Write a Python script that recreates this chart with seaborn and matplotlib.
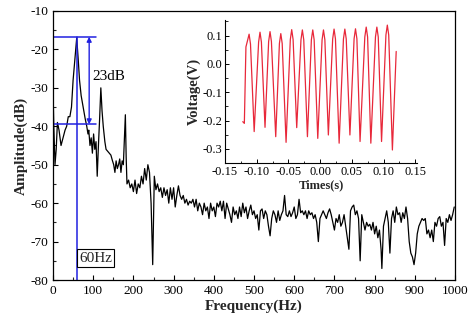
import numpy as np
import pandas as pd
import matplotlib
matplotlib.use("Agg")
import matplotlib.pyplot as plt
from matplotlib.ticker import MultipleLocator, FormatStrFormatter
import seaborn as sns

# Spectrum of the recorded signal (frequency in Hz, amplitude in dB)
freq = [
    0, 2, 5, 8, 11, 15, 20, 25, 30, 34,
    38, 42, 46, 50, 54, 59, 63, 66, 70, 75,
    80, 84, 87, 89, 92, 95, 98, 101, 104, 107,
    110, 113, 116, 119, 122, 125, 129, 132, 136, 140,
    144, 148, 151, 154, 157, 160, 163, 166, 169, 172,
    175, 178, 180, 182, 184, 188, 192, 196, 200, 204,
    208, 212, 216, 220, 224, 228, 232, 236, 240, 244,
    248, 252, 256, 260, 264, 268, 272, 276, 280, 284,
    288, 292, 296, 300, 304, 308, 312, 316, 320, 324,
    328, 332, 336, 340, 344, 348, 352, 356, 360, 364,
    368, 372, 376, 380, 384, 388, 392, 396, 400, 404,
    408, 412, 416, 420, 424, 428, 432, 436, 440, 444,
    448, 452, 456, 460, 464, 468, 472, 476, 480, 484,
    488, 492, 496, 500, 504, 508, 512, 516, 520, 524,
    528, 532, 536, 540, 544, 548, 552, 556, 560, 564,
    568, 572, 576, 580, 584, 588, 592, 596, 600, 604,
    608, 612, 616, 620, 624, 628, 632, 636, 640, 644,
    648, 652, 656, 660, 664, 668, 672, 676, 680, 684,
    688, 692, 696, 700, 704, 708, 712, 716, 720, 724,
    728, 732, 736, 740, 744, 748, 752, 756, 760, 764,
    768, 772, 776, 780, 784, 788, 792, 796, 800, 804,
    808, 812, 816, 818, 822, 826, 830, 834, 838, 842,
    846, 850, 854, 858, 862, 866, 870, 874, 878, 882,
    886, 890, 894, 898, 902, 906, 910, 914, 918, 922,
    926, 930, 934, 938, 942, 946, 950, 954, 958, 962,
    966, 970, 974, 978, 982, 986, 990, 994, 998,
]
amplitude = [
    -30, -40, -50, -46, -39, -41, -45, -43, -41, -40,
    -37.5, -37.5, -35, -28, -23, -17, -23, -28, -32, -35,
    -38, -40, -42, -41, -45, -43, -47, -42, -46, -44,
    -53, -45, -38, -30, -36, -40, -44, -46, -46.5, -47,
    -47.5, -49, -50, -52, -49, -51, -50, -48.5, -52, -49,
    -50, -42, -37, -48, -55, -54, -56, -55, -57, -54,
    -57.5, -55, -56, -53, -55, -51, -54, -50, -52, -60,
    -76, -53, -56.5, -55, -57, -56, -58.5, -56, -58, -56.5,
    -60, -56, -59, -56, -61, -58, -55.5, -58, -59, -58,
    -60, -59, -60.5, -59.5, -60, -59, -61, -59, -62, -60,
    -61, -63, -60, -62, -61, -64, -60, -62, -61, -63.5,
    -60, -61, -59.5, -62, -59.5, -64, -60, -61.5, -63, -65,
    -61, -63, -62, -64, -61, -63.5, -60, -62.5, -61, -64,
    -62, -60.5, -63, -62, -64, -63, -67, -62, -61.5, -64,
    -62, -63, -66, -68.5, -64, -62, -63, -65, -62, -64.5,
    -63, -62, -58, -63, -63.5, -62, -63.5, -62.5, -61, -64,
    -63, -59, -62.5, -62, -63, -62, -64, -62, -63, -62.5,
    -64, -63, -65, -70, -64, -63, -62, -63, -64, -62.5,
    -61.5, -63, -65, -67, -64, -65, -63, -66, -65, -63,
    -66, -69, -72, -62, -61, -60.5, -63, -62, -64, -75,
    -63, -65, -67, -65, -66, -65.5, -67, -65, -68, -66,
    -69, -67, -72, -77, -66, -64, -62, -65, -73, -64,
    -62, -65, -61, -63, -62.5, -65, -62.5, -64, -61, -64,
    -70, -73, -74, -76, -73, -68, -66, -65, -64, -64.5,
    -64, -68, -67, -69, -67, -70, -65, -66, -64, -63.5,
    -66, -65, -71, -64, -65, -63, -64.5, -63, -61,
]

# Time-domain voltage waveform shown in the inset (one row per cycle)
times = [
    -0.122, -0.1195, -0.117,
    -0.1142, -0.112, -0.1098, -0.104,
    -0.0970, -0.0948, -0.0926, -0.0869,
    -0.0812, -0.0790, -0.0768, -0.0700,
    -0.0642, -0.0620, -0.0598, -0.0537,
    -0.0470, -0.0448, -0.0426, -0.0369,
    -0.0302, -0.0280, -0.0258, -0.0200,
    -0.0138, -0.0116, -0.0094, -0.0037,
    0.0031, 0.0053, 0.0075, 0.0130,
    0.0198, 0.0220, 0.0242, 0.0300,
    0.0368, 0.0390, 0.0412, 0.0470,
    0.0536, 0.0558, 0.0580, 0.0630,
    0.0705, 0.0727, 0.0749, 0.0800,
    0.0873, 0.0895, 0.0917, 0.0969,
    0.1038, 0.1060, 0.1082, 0.1140,
    0.120,
]
voltage = [
    -0.204, -0.210, 0.060,
    0.085, 0.105, 0.070, -0.239,
    0.077, 0.112, 0.077, -0.224,
    0.079, 0.114, 0.079, -0.257,
    0.072, 0.107, 0.072, -0.277,
    0.086, 0.121, 0.086, -0.225,
    0.085, 0.120, 0.085, -0.257,
    0.085, 0.120, 0.085, -0.263,
    0.085, 0.120, 0.085, -0.251,
    0.088, 0.123, 0.088, -0.280,
    0.088, 0.123, 0.088, -0.251,
    0.089, 0.124, 0.089, -0.274,
    0.095, 0.130, 0.095, -0.280,
    0.095, 0.130, 0.095, -0.274,
    0.102, 0.137, 0.102, -0.304,
    0.044,
]

peak_freq = 60
peak_db = -16.7
floor_db = -39.5

sns.set_theme(style="ticks")
plt.rcParams["font.family"] = ["Liberation Serif", "DejaVu Serif"]
plt.rcParams["axes.unicode_minus"] = False
plt.rcParams["xtick.direction"] = "in"
plt.rcParams["ytick.direction"] = "in"

spec = pd.DataFrame({"Frequency": freq, "Amplitude": amplitude})
wave = pd.DataFrame({"Time": times, "Voltage": voltage})

fig = plt.figure(figsize=(4.74, 3.27), dpi=100)
ax = fig.add_axes([0.1118, 0.1437, 0.8482, 0.8227])

sns.lineplot(data=spec, x="Frequency", y="Amplitude", ax=ax, color="black",
             linewidth=0.9, sort=False)
ax.set_xlim(0, 1000)
ax.set_ylim(-80, -10)
ax.xaxis.set_major_locator(MultipleLocator(100))
ax.xaxis.set_minor_locator(MultipleLocator(50))
ax.yaxis.set_major_locator(MultipleLocator(10))
ax.yaxis.set_minor_locator(MultipleLocator(5))
ax.tick_params(which="major", length=3.5, width=0.8, labelsize=9.6, colors="black")
ax.tick_params(which="minor", length=2, width=0.8)
for s in ax.spines.values():
    s.set_linewidth(0.9)
    s.set_color("black")
ax.set_xlabel("Frequency(Hz)", fontsize=11, fontweight="bold", labelpad=2)
ax.set_ylabel("Amplitude(dB)", fontsize=11, fontweight="bold", labelpad=2)

# 23 dB marker between the 60 Hz peak and the surrounding floor
blue = "#2020e0"
ax.plot([2, 107], [peak_db, peak_db], color=blue, lw=1.1)
ax.plot([2, 108], [floor_db, floor_db], color=blue, lw=1.1)
ax.annotate("", xy=(90, floor_db), xytext=(90, peak_db),
            arrowprops=dict(arrowstyle="<|-|>", color=blue, lw=1.0,
                            mutation_scale=7, shrinkA=0, shrinkB=0))
ax.text(97, -27, "23dB", fontsize=11, va="center", ha="left", color="black")
ax.plot([peak_freq, peak_freq], [peak_db, -80], color=blue, lw=1.1)
ax.text(peak_freq + 5, -74.3, "60Hz", fontsize=11, va="center", ha="left",
        bbox=dict(boxstyle="square,pad=0.15", fc="white", ec="black", lw=0.8))

# Inset: voltage waveform
ins = fig.add_axes([0.4747, 0.5015, 0.4053, 0.4373])
sns.lineplot(data=wave, x="Time", y="Voltage", ax=ins, color="#e8283a",
             linewidth=0.9, sort=False)
ins.set_xlim(-0.15, 0.153)
ins.set_ylim(-0.35, 0.155)
ins.xaxis.set_major_locator(MultipleLocator(0.05))
ins.xaxis.set_minor_locator(MultipleLocator(0.025))
ins.yaxis.set_major_locator(MultipleLocator(0.1))
ins.yaxis.set_minor_locator(MultipleLocator(0.05))
ins.xaxis.set_major_formatter(FormatStrFormatter("%.2f"))
ins.yaxis.set_major_formatter(FormatStrFormatter("%.1f"))
ins.tick_params(which="major", length=3, width=0.7, labelsize=8.9, colors="black", pad=2)
ins.tick_params(which="minor", length=1.8, width=0.7)
ins.spines["top"].set_visible(False)
ins.spines["right"].set_visible(False)
for s in ("left", "bottom"):
    ins.spines[s].set_linewidth(0.8)
    ins.spines[s].set_color("black")
ins.patch.set_alpha(0)
ins.set_xlabel("Times(s)", fontsize=9, fontweight="bold", labelpad=1)
ins.set_ylabel("Voltage(V)", fontsize=10.5, fontweight="bold", labelpad=1)

fig.savefig("out.png", dpi=100)
